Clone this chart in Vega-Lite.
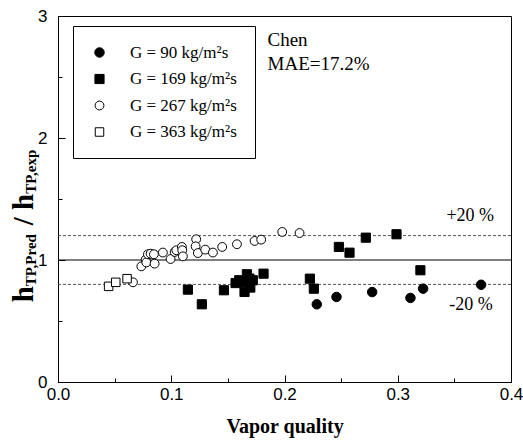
{
  "$schema": "https://vega.github.io/schema/vega-lite/v6.json",
  "width": 453,
  "height": 366,
  "autosize": {"type": "none"},
  "padding": {"left": 58, "top": 16, "right": 12, "bottom": 64},
  "background": "white",
  "config": {
    "view": {"stroke": "black", "strokeWidth": 1},
    "axis": {"grid": false, "domainColor": "black", "tickColor": "black", "labelColor": "black", "titleColor": "black", "tickWidth": 1, "domainWidth": 1},
    "legend": {"labelFont": "Liberation Serif, Times New Roman, serif", "labelFontSize": 17, "labelColor": "black", "symbolStrokeColor": "black", "symbolStrokeWidth": 1}
  },
  "layer": [
    {
      "data": {"values": [{"ref": 1.2}, {"ref": 0.8}]},
      "mark": {"type": "rule", "color": "#555555", "strokeWidth": 1, "strokeDash": [3, 2]},
      "encoding": {
        "y": {"field": "ref", "type": "quantitative", "scale": {"domain": [0, 3], "nice": false, "zero": false}, "axis": null}
      }
    },
    {
      "data": {"values": [{"ref": 1.0}]},
      "mark": {"type": "rule", "color": "black", "strokeWidth": 1},
      "encoding": {
        "y": {"field": "ref", "type": "quantitative", "scale": {"domain": [0, 3], "nice": false, "zero": false}, "axis": null}
      }
    },
    {
      "data": {"values": [
        {"G": "G = 90 kg/m²s", "x": 0.2285, "ratio": 0.637},
        {"G": "G = 90 kg/m²s", "x": 0.2459, "ratio": 0.697},
        {"G": "G = 90 kg/m²s", "x": 0.2774, "ratio": 0.737},
        {"G": "G = 90 kg/m²s", "x": 0.3112, "ratio": 0.689},
        {"G": "G = 90 kg/m²s", "x": 0.3224, "ratio": 0.765},
        {"G": "G = 90 kg/m²s", "x": 0.3736, "ratio": 0.797},
        {"G": "G = 169 kg/m²s", "x": 0.1147, "ratio": 0.757},
        {"G": "G = 169 kg/m²s", "x": 0.127, "ratio": 0.637},
        {"G": "G = 169 kg/m²s", "x": 0.1465, "ratio": 0.752},
        {"G": "G = 169 kg/m²s", "x": 0.1568, "ratio": 0.811},
        {"G": "G = 169 kg/m²s", "x": 0.160, "ratio": 0.834},
        {"G": "G = 169 kg/m²s", "x": 0.1618, "ratio": 0.82},
        {"G": "G = 169 kg/m²s", "x": 0.1647, "ratio": 0.738},
        {"G": "G = 169 kg/m²s", "x": 0.1668, "ratio": 0.883},
        {"G": "G = 169 kg/m²s", "x": 0.169, "ratio": 0.848},
        {"G": "G = 169 kg/m²s", "x": 0.1698, "ratio": 0.774},
        {"G": "G = 169 kg/m²s", "x": 0.172, "ratio": 0.834},
        {"G": "G = 169 kg/m²s", "x": 0.1815, "ratio": 0.888},
        {"G": "G = 169 kg/m²s", "x": 0.2224, "ratio": 0.847},
        {"G": "G = 169 kg/m²s", "x": 0.2259, "ratio": 0.765},
        {"G": "G = 169 kg/m²s", "x": 0.248, "ratio": 1.107},
        {"G": "G = 169 kg/m²s", "x": 0.2574, "ratio": 1.06},
        {"G": "G = 169 kg/m²s", "x": 0.2718, "ratio": 1.183},
        {"G": "G = 169 kg/m²s", "x": 0.2989, "ratio": 1.211},
        {"G": "G = 169 kg/m²s", "x": 0.32, "ratio": 0.916},
        {"G": "G = 267 kg/m²s", "x": 0.0662, "ratio": 0.817},
        {"G": "G = 267 kg/m²s", "x": 0.0736, "ratio": 0.948},
        {"G": "G = 267 kg/m²s", "x": 0.0774, "ratio": 1.003},
        {"G": "G = 267 kg/m²s", "x": 0.078, "ratio": 0.98},
        {"G": "G = 267 kg/m²s", "x": 0.0794, "ratio": 1.047},
        {"G": "G = 267 kg/m²s", "x": 0.0818, "ratio": 1.052},
        {"G": "G = 267 kg/m²s", "x": 0.0847, "ratio": 1.047},
        {"G": "G = 267 kg/m²s", "x": 0.0853, "ratio": 0.97},
        {"G": "G = 267 kg/m²s", "x": 0.0926, "ratio": 1.061},
        {"G": "G = 267 kg/m²s", "x": 0.0994, "ratio": 1.008},
        {"G": "G = 267 kg/m²s", "x": 0.103, "ratio": 1.066},
        {"G": "G = 267 kg/m²s", "x": 0.1045, "ratio": 1.08},
        {"G": "G = 267 kg/m²s", "x": 0.1094, "ratio": 1.107},
        {"G": "G = 267 kg/m²s", "x": 0.1097, "ratio": 1.08},
        {"G": "G = 267 kg/m²s", "x": 0.1103, "ratio": 1.03},
        {"G": "G = 267 kg/m²s", "x": 0.122, "ratio": 1.17},
        {"G": "G = 267 kg/m²s", "x": 0.1215, "ratio": 1.112},
        {"G": "G = 267 kg/m²s", "x": 0.1235, "ratio": 1.057},
        {"G": "G = 267 kg/m²s", "x": 0.130, "ratio": 1.085},
        {"G": "G = 267 kg/m²s", "x": 0.1368, "ratio": 1.061},
        {"G": "G = 267 kg/m²s", "x": 0.145, "ratio": 1.107},
        {"G": "G = 267 kg/m²s", "x": 0.158, "ratio": 1.129},
        {"G": "G = 267 kg/m²s", "x": 0.1736, "ratio": 1.156},
        {"G": "G = 267 kg/m²s", "x": 0.1794, "ratio": 1.167},
        {"G": "G = 267 kg/m²s", "x": 0.198, "ratio": 1.23},
        {"G": "G = 267 kg/m²s", "x": 0.2133, "ratio": 1.221},
        {"G": "G = 363 kg/m²s", "x": 0.0447, "ratio": 0.784},
        {"G": "G = 363 kg/m²s", "x": 0.051, "ratio": 0.817},
        {"G": "G = 363 kg/m²s", "x": 0.061, "ratio": 0.847}
      ]},
      "mark": {"type": "point", "filled": true, "stroke": "black", "strokeWidth": 1, "opacity": 1},
      "encoding": {
        "x": {
          "field": "x", "type": "quantitative",
          "scale": {"domain": [0, 0.4], "nice": false, "zero": false},
          "axis": {"orient": "bottom", "values": [0, 0.1, 0.2, 0.3, 0.4], "format": ".1f", "tickSize": -7, "labelPadding": 11, "labelFlush": false, "labelFont": "Liberation Sans", "labelFontSize": 17, "title": "Vapor quality", "titleFont": "Liberation Serif, Times New Roman, serif", "titleFontWeight": "bold", "titleFontSize": 20, "titlePadding": 14}
        },
        "y": {
          "field": "ratio", "type": "quantitative",
          "scale": {"domain": [0, 3], "nice": false, "zero": false},
          "axis": {"orient": "left", "values": [0, 1, 2, 3], "format": "d", "tickSize": -7, "labelPadding": 18, "labelFont": "Liberation Sans", "labelFontSize": 17, "title": null}
        },
        "shape": {
          "field": "G", "type": "nominal",
          "scale": {"domain": ["G = 90 kg/m²s", "G = 169 kg/m²s", "G = 267 kg/m²s", "G = 363 kg/m²s"], "range": ["circle", "square", "circle", "square"]},
          "legend": {"title": null, "orient": "none", "legendX": 15, "legendY": 10, "padding": 18, "strokeColor": "black", "fillColor": "white", "labelOffset": 22, "rowPadding": 8.5}
        },
        "fill": {
          "field": "G", "type": "nominal",
          "scale": {"domain": ["G = 90 kg/m²s", "G = 169 kg/m²s", "G = 267 kg/m²s", "G = 363 kg/m²s"], "range": ["black", "black", "white", "white"]},
          "legend": {"title": null, "orient": "none", "legendX": 15, "legendY": 10, "padding": 18, "strokeColor": "black", "fillColor": "white", "labelOffset": 22, "rowPadding": 8.5}
        },
        "stroke": {
          "field": "G", "type": "nominal",
          "scale": {"domain": ["G = 90 kg/m²s", "G = 169 kg/m²s", "G = 267 kg/m²s", "G = 363 kg/m²s"], "range": ["black", "black", "black", "black"]},
          "legend": {"title": null, "orient": "none", "legendX": 15, "legendY": 10, "padding": 18, "strokeColor": "black", "fillColor": "white", "labelOffset": 22, "rowPadding": 8.5}
        },
        "size": {
          "field": "G", "type": "nominal",
          "scale": {"domain": ["G = 90 kg/m²s", "G = 169 kg/m²s", "G = 267 kg/m²s", "G = 363 kg/m²s"], "range": [90, 72, 64, 56]},
          "legend": {"title": null, "orient": "none", "legendX": 15, "legendY": 10, "padding": 18, "strokeColor": "black", "fillColor": "white", "labelOffset": 22, "rowPadding": 8.5}
        }
      }
    },
    {
      "data": {"values": [{"tick": 0}]},
      "mark": {"type": "point", "opacity": 0},
      "encoding": {
        "x": {
          "field": "tick", "type": "quantitative",
          "scale": {"domain": [0, 0.4], "nice": false, "zero": false},
          "axis": {"orient": "bottom", "values": [0.05, 0.15, 0.25, 0.35], "tickSize": -4, "labels": false, "domain": false, "title": null}
        },
        "y": {
          "field": "tick", "type": "quantitative",
          "scale": {"domain": [0, 3], "nice": false, "zero": false},
          "axis": {"orient": "left", "values": [0.5, 1.5, 2.5], "tickSize": -4, "labels": false, "domain": false, "title": null}
        }
      }
    },
    {
      "data": {"values": [{"label": "Chen", "x": 0.185, "y": 2.752}, {"label": "MAE=17.2%", "x": 0.185, "y": 2.555}]},
      "mark": {"type": "text", "font": "Liberation Serif, Times New Roman, serif", "fontSize": 19, "align": "left", "baseline": "alphabetic", "color": "black"},
      "encoding": {
        "x": {"field": "x", "type": "quantitative", "scale": {"domain": [0, 0.4], "nice": false, "zero": false}, "axis": null},
        "y": {"field": "y", "type": "quantitative", "scale": {"domain": [0, 3], "nice": false, "zero": false}, "axis": null},
        "text": {"field": "label"}
      }
    },
    {
      "data": {"values": [{"label": "+20 %", "x": 0.343, "y": 1.317}, {"label": "-20 %", "x": 0.3455, "y": 0.588}]},
      "mark": {"type": "text", "font": "Liberation Serif, Times New Roman, serif", "fontSize": 18, "align": "left", "baseline": "alphabetic", "color": "black"},
      "encoding": {
        "x": {"field": "x", "type": "quantitative", "scale": {"domain": [0, 0.4], "nice": false, "zero": false}, "axis": null},
        "y": {"field": "y", "type": "quantitative", "scale": {"domain": [0, 3], "nice": false, "zero": false}, "axis": null},
        "text": {"field": "label"}
      }
    },
    {
      "data": {"values": [{"label": "h", "x": -0.0223, "y": 0.6533}, {"label": "/ h", "x": -0.0223, "y": 1.2852}]},
      "mark": {"type": "text", "font": "Liberation Serif, Times New Roman, serif", "fontWeight": "bold", "fontSize": 29, "align": "left", "baseline": "alphabetic", "angle": 270, "color": "black", "clip": false},
      "encoding": {
        "x": {"field": "x", "type": "quantitative", "scale": {"domain": [0, 0.4], "nice": false, "zero": false}, "axis": null},
        "y": {"field": "y", "type": "quantitative", "scale": {"domain": [0, 3], "nice": false, "zero": false}, "axis": null},
        "text": {"field": "label"}
      }
    },
    {
      "data": {"values": [{"label": "TP,Pred", "x": -0.0195, "y": 0.7852}, {"label": "TP,exp", "x": -0.0195, "y": 1.5426}]},
      "mark": {"type": "text", "font": "Liberation Serif, Times New Roman, serif", "fontWeight": "bold", "fontSize": 15, "align": "left", "baseline": "alphabetic", "angle": 270, "color": "black", "clip": false},
      "encoding": {
        "x": {"field": "x", "type": "quantitative", "scale": {"domain": [0, 0.4], "nice": false, "zero": false}, "axis": null},
        "y": {"field": "y", "type": "quantitative", "scale": {"domain": [0, 3], "nice": false, "zero": false}, "axis": null},
        "text": {"field": "label"}
      }
    }
  ],
  "resolve": {"axis": {"x": "independent", "y": "independent"}}
}
